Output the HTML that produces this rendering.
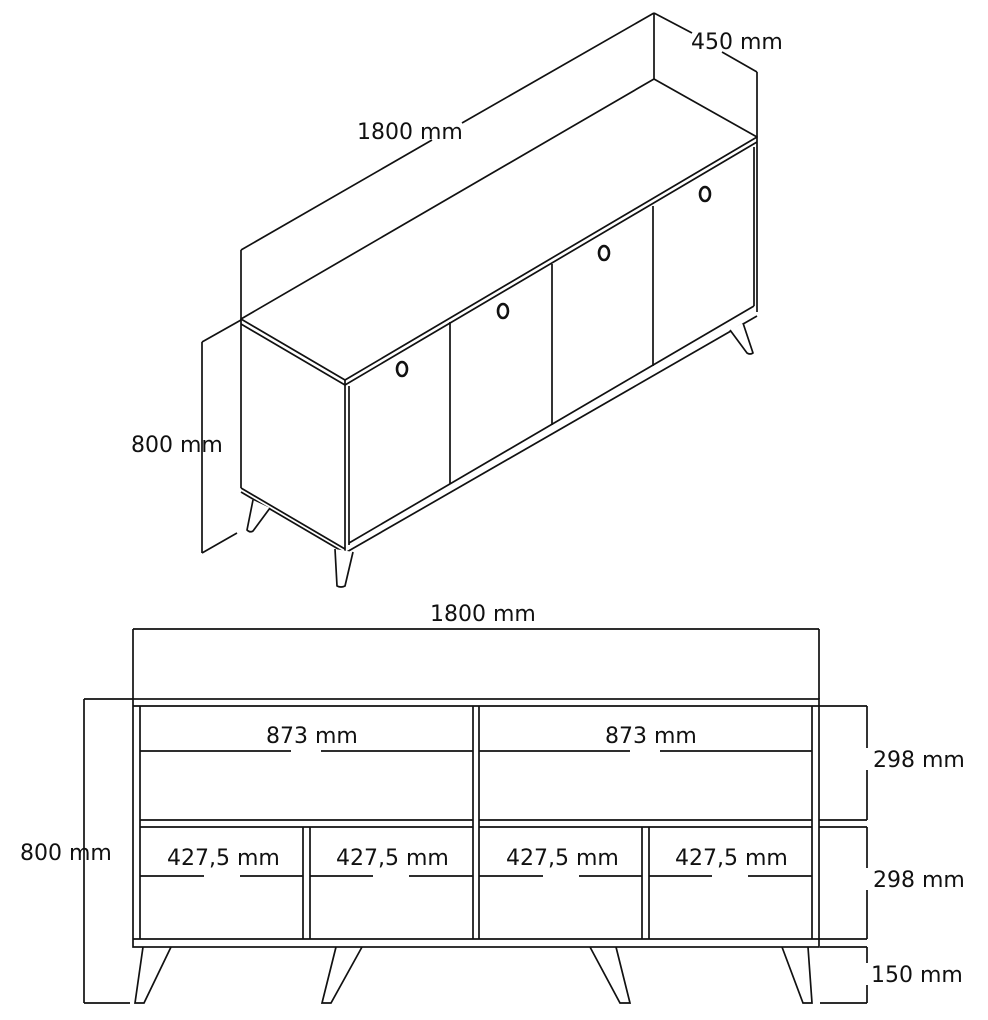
<!DOCTYPE html>
<html><head><meta charset="utf-8"><style>
html,body{margin:0;padding:0;background:#fff;}
svg{display:block}
text{font-family:"DejaVu Sans","Liberation Sans",sans-serif;font-size:22px;fill:#111}
</style></head><body>
<svg width="988" height="1020" viewBox="0 0 988 1020" xmlns="http://www.w3.org/2000/svg">
<g stroke="#111" stroke-width="1.7" fill="none" stroke-linejoin="round">
<line x1="654" y1="13" x2="654" y2="79"/>
<line x1="241" y1="250" x2="241" y2="319"/>
<line x1="241" y1="250" x2="432" y2="140"/>
<line x1="462" y1="123" x2="654" y2="13"/>
<line x1="654" y1="13" x2="692" y2="33"/>
<line x1="722" y1="52" x2="757" y2="72"/>
<line x1="757" y1="72" x2="757" y2="137"/>
<line x1="202" y1="342" x2="241" y2="320"/>
<line x1="202" y1="342" x2="202" y2="553"/>
<line x1="202" y1="553" x2="237" y2="533"/>
<polygon points="654,79 757,137 345,380 241,319" fill="#fff"/>
<line x1="241" y1="319" x2="241" y2="324"/>
<polyline points="241,324 345,385 757,142"/>
<line x1="757" y1="137" x2="757" y2="142"/>
<line x1="241" y1="324" x2="241" y2="488"/>
<polyline points="241,488 345,549"/>
<line x1="241" y1="492" x2="345" y2="553"/>
<line x1="345" y1="380" x2="345" y2="553"/>
<line x1="349" y1="386" x2="349" y2="545"/>
<line x1="757" y1="142" x2="757" y2="312"/>
<line x1="754" y1="147" x2="754" y2="306"/>
<line x1="345" y1="553" x2="757" y2="316"/>
<line x1="349" y1="543" x2="754" y2="306"/>
<line x1="450" y1="322" x2="450" y2="484"/>
<line x1="552" y1="264" x2="552" y2="425"/>
<line x1="653" y1="206" x2="653" y2="366"/>
<path d="M335,549 L337,586 Q341,588 345,586 L353,552" fill="#fff"/>
<path d="M253,500 L247,530 Q250,533 253,531 L270,508" fill="#fff"/>
<path d="M730,330 L747,353 Q750,355 753,353 L743,323" fill="#fff"/>
</g>
<g stroke="#111" fill="none">
<ellipse cx="402" cy="369" rx="5" ry="7" stroke-width="2.6"/>
<ellipse cx="503" cy="311" rx="5" ry="7" stroke-width="2.6"/>
<ellipse cx="604" cy="253" rx="5" ry="7" stroke-width="2.6"/>
<ellipse cx="705" cy="194" rx="5" ry="7" stroke-width="2.6"/>
</g>
<text x="357" y="139">1800 mm</text>
<text x="691" y="49">450 mm</text>
<text x="131" y="452">800 mm</text>

<g stroke="#111" stroke-width="1.7" fill="none">
<line x1="133" y1="629" x2="819" y2="629"/>
<line x1="133" y1="629" x2="133" y2="699"/>
<line x1="819" y1="629" x2="819" y2="699"/>
<rect x="133" y="699" width="686" height="248"/>
<line x1="133" y1="706" x2="819" y2="706"/>
<line x1="133" y1="939" x2="819" y2="939"/>
<line x1="140" y1="706" x2="140" y2="939"/>
<line x1="812" y1="706" x2="812" y2="939"/>
<line x1="473" y1="706" x2="473" y2="939"/>
<line x1="479" y1="706" x2="479" y2="939"/>
<line x1="140" y1="820" x2="473" y2="820"/>
<line x1="140" y1="827" x2="473" y2="827"/>
<line x1="479" y1="820" x2="812" y2="820"/>
<line x1="479" y1="827" x2="812" y2="827"/>
<line x1="303" y1="827" x2="303" y2="939"/>
<line x1="310" y1="827" x2="310" y2="939"/>
<line x1="642" y1="827" x2="642" y2="939"/>
<line x1="649" y1="827" x2="649" y2="939"/>
<line x1="140" y1="751" x2="291" y2="751"/><line x1="321" y1="751" x2="473" y2="751"/>
<line x1="479" y1="751" x2="630" y2="751"/><line x1="660" y1="751" x2="812" y2="751"/>
<line x1="140" y1="876" x2="204" y2="876"/><line x1="240" y1="876" x2="303" y2="876"/>
<line x1="310" y1="876" x2="373" y2="876"/><line x1="409" y1="876" x2="473" y2="876"/>
<line x1="479" y1="876" x2="543" y2="876"/><line x1="579" y1="876" x2="642" y2="876"/>
<line x1="649" y1="876" x2="712" y2="876"/><line x1="748" y1="876" x2="812" y2="876"/>
<polyline points="143,947 135,1003 144,1003 171,947"/>
<polyline points="336,947 322,1003 331,1003 362,947"/>
<polyline points="590,947 620,1003 630,1003 616,947"/>
<polyline points="782,947 803,1003 812,1003 808,947"/>
<line x1="84" y1="699" x2="133" y2="699"/>
<line x1="84" y1="699" x2="84" y2="1003"/>
<line x1="84" y1="1003" x2="130" y2="1003"/>
<line x1="819" y1="706" x2="867" y2="706"/>
<line x1="819" y1="820" x2="867" y2="820"/>
<line x1="819" y1="827" x2="867" y2="827"/>
<line x1="819" y1="939" x2="867" y2="939"/>
<line x1="820" y1="947" x2="867" y2="947"/>
<line x1="820" y1="1003" x2="867" y2="1003"/>
<line x1="867" y1="706" x2="867" y2="748"/><line x1="867" y1="770" x2="867" y2="820"/>
<line x1="867" y1="827" x2="867" y2="868"/><line x1="867" y1="890" x2="867" y2="939"/>
<line x1="867" y1="947" x2="867" y2="963"/><line x1="867" y1="985" x2="867" y2="1003"/>
</g>
<text x="430" y="621">1800 mm</text>
<text x="20" y="860">800 mm</text>
<text x="266" y="743">873 mm</text>
<text x="605" y="743">873 mm</text>
<text x="167" y="865">427,5 mm</text>
<text x="336" y="865">427,5 mm</text>
<text x="506" y="865">427,5 mm</text>
<text x="675" y="865">427,5 mm</text>
<text x="873" y="767">298 mm</text>
<text x="873" y="887">298 mm</text>
<text x="871" y="982">150 mm</text>
</svg>
</body></html>
